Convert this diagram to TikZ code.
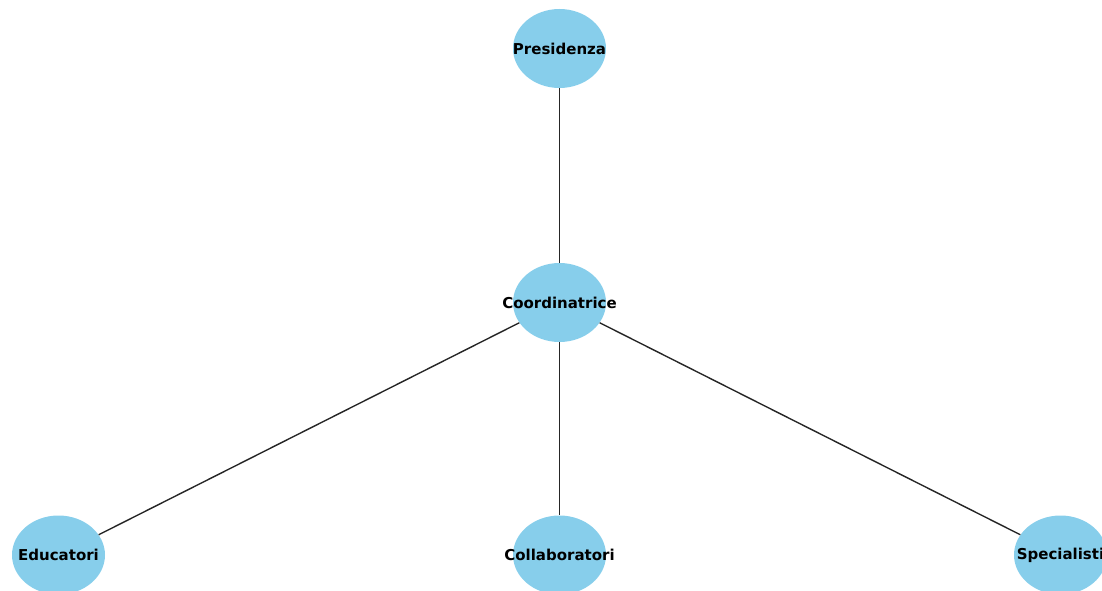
\documentclass[tikz,border=0pt]{standalone}
\usepackage{fontspec}
\setmainfont{DejaVu Sans}
\usetikzlibrary{shapes.geometric}
\definecolor{skyblue}{HTML}{87CEEB}
\tikzset{
  vertex/.style={ellipse, fill=skyblue, draw=none, inner sep=0pt,
    minimum width=93pt, minimum height=79pt},
  vlabel/.style={font=\bfseries\fontsize{15}{18}\selectfont, text=black},
  edge/.style={draw=black!85, line width=1.4pt}
}
\begin{document}
\begin{tikzpicture}[x=1pt,y=1pt]
  \useasboundingbox (0,0) rectangle (1102,590);
  \clip (0,0) rectangle (1102,590);
  % hierarchy nodes
  \node[vertex, label={[vlabel]center:Presidenza}] (pres) at (559.5,541.5) {};
  \node[vertex, label={[vlabel]center:Coordinatrice}] (coord) at (559.5,287.5) {};
  \node[vertex, label={[vlabel]center:Educatori}] (edu) at (58.5,35) {};
  \node[vertex, label={[vlabel]center:Collaboratori}] (coll) at (559.5,35) {};
  \node[vertex, label={[vlabel]center:Specialisti}] (spec) at (1060.5,35) {};
  % links
  \draw[edge] (pres) -- (coord);
  \draw[edge] (coord) -- (edu);
  \draw[edge] (coord) -- (coll);
  \draw[edge] (coord) -- (spec);
\end{tikzpicture}
\end{document}
